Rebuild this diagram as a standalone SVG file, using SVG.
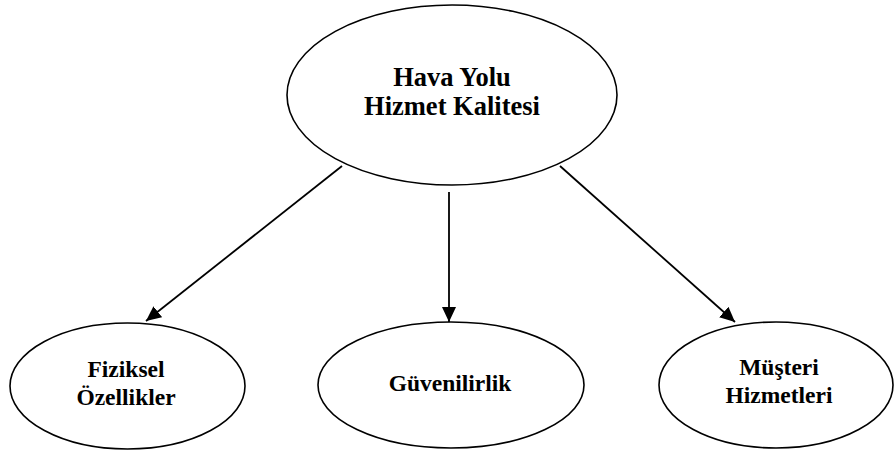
<svg xmlns="http://www.w3.org/2000/svg" width="894" height="454" viewBox="0 0 894 454">
<style>
.node ellipse{fill:#fff;stroke:#000;stroke-width:1.6}
.t{font-family:"Liberation Serif","Times New Roman",serif;font-weight:bold;fill:#000;text-anchor:middle}
.big{font-size:26.5px}
.sm{font-size:23.5px}
.edge{stroke:#000;stroke-width:1.8;fill:none;marker-end:url(#ah)}
</style>
<defs>
<marker id="ah" markerUnits="userSpaceOnUse" markerWidth="16" markerHeight="14" refX="15" refY="7" orient="auto">
<path d="M0,0 L15,7 L0,14 z" fill="#000"/>
</marker>
</defs>
<g id="connectors">
<line class="edge" x1="342" y1="166" x2="146" y2="321"/>
<line class="edge" x1="449" y1="192" x2="449" y2="322"/>
<line class="edge" x1="560" y1="166" x2="735" y2="322"/>
</g>
<g id="root" class="node">
<ellipse cx="452" cy="95" rx="165" ry="90"/>
<text class="t big" x="452" y="86">Hava Yolu</text>
<text class="t big" x="452" y="115">Hizmet Kalitesi</text>
</g>
<g id="fiziksel" class="node">
<ellipse cx="127.5" cy="386" rx="117.5" ry="63"/>
<text class="t sm" x="126" y="377">Fiziksel</text>
<text class="t sm" x="126" y="405">Özellikler</text>
</g>
<g id="guvenilirlik" class="node">
<ellipse cx="451" cy="385" rx="133" ry="63"/>
<text class="t sm" x="450" y="391">Güvenilirlik</text>
</g>
<g id="musteri" class="node">
<ellipse cx="776" cy="385" rx="117" ry="63"/>
<text class="t sm" x="779" y="375">Müşteri</text>
<text class="t sm" x="779" y="403">Hizmetleri</text>
</g>
</svg>
